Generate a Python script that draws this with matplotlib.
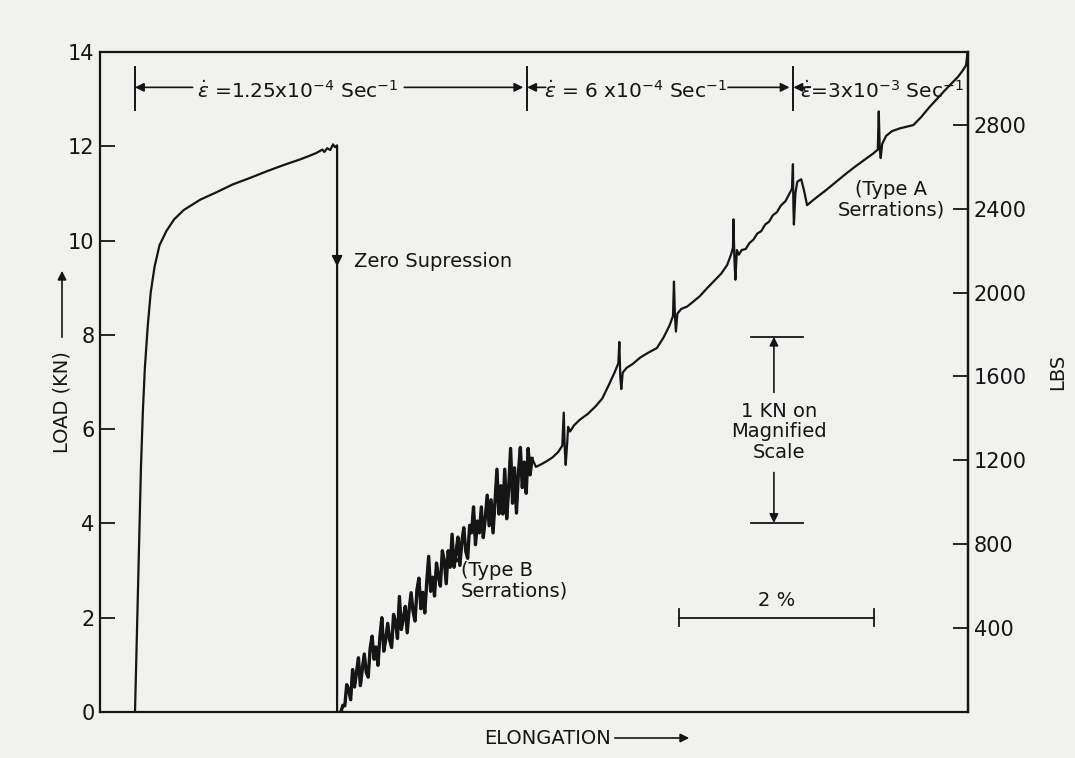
import matplotlib
matplotlib.use('Agg')
import matplotlib.pyplot as plt
from matplotlib.patches import FancyArrowPatch

plt.rcParams['font.family'] = ['DejaVu Sans']
plt.rcParams['mathtext.fontset'] = 'dejavusans'

INK = '#151515'
BG = '#f1f1ef'

# ---------------- data: elongation (%) vs load (kN) ----------------
# first test at 1.25e-4 /s (full scale)
yield_x = [0.359, 0.38, 0.40, 0.42, 0.44, 0.46, 0.49, 0.52, 0.56, 0.61, 0.68, 0.76,
           0.86, 1.03, 1.20, 1.36, 1.54, 1.71, 1.88, 2.05, 2.15, 2.22, 2.28, 2.30,
           2.33, 2.36, 2.39, 2.41, 2.431]
yield_y = [0.0, 1.8, 3.6, 5.2, 6.4, 7.3, 8.2, 8.9, 9.45, 9.9, 10.2, 10.45,
           10.65, 10.87, 11.03, 11.19, 11.33, 11.47, 11.6, 11.72, 11.80, 11.86, 11.93, 11.88,
           11.96, 11.92, 12.04, 11.98, 12.02]

# after zero suppression (magnified scale): type B serrations
typeb_x = [2.47, 2.49, 2.51, 2.53, 2.55, 2.57, 2.59, 2.61, 2.63, 2.65, 2.67, 2.69,
           2.71, 2.73, 2.75, 2.77, 2.79, 2.81, 2.83, 2.85, 2.87, 2.89, 2.91, 2.93,
           2.95, 2.97, 2.99, 3.01, 3.03, 3.05, 3.07, 3.09, 3.11, 3.13, 3.15, 3.17,
           3.19, 3.21, 3.23, 3.25, 3.27, 3.29, 3.31, 3.33, 3.35, 3.37, 3.39, 3.41,
           3.43, 3.45, 3.47, 3.49, 3.51, 3.53, 3.55, 3.57, 3.59, 3.61, 3.63, 3.65,
           3.67, 3.69, 3.71, 3.73, 3.75, 3.77, 3.79, 3.81, 3.83, 3.85, 3.87, 3.89,
           3.91, 3.93, 3.95, 3.97, 3.99, 4.01, 4.03, 4.05, 4.07, 4.09, 4.11, 4.13,
           4.15, 4.17, 4.19, 4.21, 4.23, 4.25, 4.27, 4.29, 4.31, 4.33, 4.35, 4.37,
           4.39, 4.41, 4.43]
typeb_y = [0.00, 0.14, 0.13, 0.58, 0.47, 0.26, 0.90, 0.53, 0.84, 1.15, 0.56, 0.92,
           1.23, 0.84, 0.74, 1.35, 1.61, 1.12, 1.38, 0.99, 1.60, 2.00, 1.29, 1.54,
           1.88, 1.53, 1.37, 2.07, 1.91, 1.56, 2.45, 1.75, 1.99, 2.24, 1.68, 2.18,
           2.53, 2.13, 1.93, 2.59, 2.84, 2.19, 2.54, 2.10, 2.75, 3.30, 2.56, 2.86,
           2.46, 3.16, 2.87, 2.67, 3.42, 3.22, 2.72, 3.42, 3.07, 3.77, 3.07, 3.37,
           3.71, 3.11, 3.61, 3.91, 3.41, 3.26, 3.96, 3.80, 4.35, 3.55, 4.05, 3.80,
           4.35, 3.70, 4.10, 4.60, 3.95, 4.50, 3.80, 4.45, 5.15, 4.20, 4.80, 4.20,
           5.15, 4.10, 4.74, 5.59, 4.43, 5.18, 4.22, 5.07, 5.61, 4.76, 5.30, 4.64,
           5.59, 5.03, 5.38]

# type A serrations (higher strain rates)
typea_x = [4.47, 4.52, 4.58, 4.64, 4.70, 4.74, 4.755, 4.765, 4.775, 4.79, 4.80, 4.82,
           4.86, 4.92, 5.00, 5.08, 5.15, 5.22, 5.28, 5.315, 5.325, 5.335, 5.345, 5.36,
           5.40, 5.46, 5.54, 5.62, 5.71, 5.78, 5.84, 5.875, 5.885, 5.895, 5.905, 5.92,
           5.96, 6.02, 6.08, 6.15, 6.22, 6.30, 6.37, 6.43, 6.47, 6.49, 6.495, 6.505,
           6.515, 6.53, 6.55, 6.58, 6.62, 6.66, 6.70, 6.74, 6.78, 6.82, 6.86, 6.90,
           6.94, 6.98, 7.03, 7.07, 7.095, 7.105, 7.11, 7.115, 7.13, 7.15, 7.19, 7.22,
           7.25, 7.29, 7.35, 7.45, 7.55, 7.65, 7.75, 7.85, 7.93, 7.975, 7.985, 7.995,
           8.005, 8.02, 8.06, 8.12, 8.20, 8.28, 8.34, 8.42, 8.50, 8.58, 8.66, 8.74,
           8.80, 8.85, 8.88, 8.895]
typea_y = [5.20, 5.25, 5.32, 5.40, 5.52, 5.65, 6.35, 5.60, 5.24, 5.70, 6.05, 5.95,
           6.08, 6.20, 6.32, 6.48, 6.65, 6.95, 7.22, 7.40, 7.85, 7.10, 6.85, 7.20,
           7.30, 7.38, 7.52, 7.62, 7.72, 7.95, 8.20, 8.40, 9.13, 8.40, 8.07, 8.45,
           8.55, 8.60, 8.70, 8.82, 8.98, 9.15, 9.30, 9.48, 9.70, 9.85, 10.45, 9.60,
           9.17, 9.80, 9.70, 9.80, 9.82, 9.95, 10.02, 10.15, 10.20, 10.34, 10.40, 10.54,
           10.60, 10.74, 10.84, 11.00, 11.10, 11.62, 10.70, 10.34, 11.00, 11.25, 11.30, 11.05,
           10.75, 10.82, 10.92, 11.08, 11.25, 11.42, 11.58, 11.73, 11.85, 11.93, 12.74, 11.95,
           11.75, 12.05, 12.22, 12.32, 12.38, 12.42, 12.45, 12.62, 12.82, 13.00, 13.18, 13.35,
           13.48, 13.62, 13.72, 14.00]

load_ticks = [0, 2, 4, 6, 8, 10, 12, 14]
lbs_ticks = [400, 800, 1200, 1600, 2000, 2400, 2800]
KN_TO_LBS = 224.809

rate_change_x = [0.359, 4.38, 7.11]
rate_labels = [r'$\dot{\epsilon}$ =1.25x10$^{-4}$ Sec$^{-1}$',
               r'$\dot{\epsilon}$ = 6 x10$^{-4}$ Sec$^{-1}$',
               r'$\dot{\epsilon}$=3x10$^{-3}$ Sec$^{-1}$']
rate_label_x = [2.03, 5.49, 8.02]

# ---------------- figure ----------------
W, H = 1075, 758
fig = plt.figure(figsize=(W / 100, H / 100), dpi=100, facecolor=BG)
ax = fig.add_axes([100 / W, 1 - 712 / H, 868 / W, 660 / H], facecolor=BG)

x = yield_x + [yield_x[-1]] + typeb_x + typea_x
y = yield_y + [0.0] + typeb_y + typea_y
ax.plot(x, y, color=INK, lw=1.6, solid_joinstyle='round')
ax.plot(typeb_x, typeb_y, color=INK, lw=2.4, solid_joinstyle='round')

ax.set_xlim(0, 8.9)
ax.set_ylim(0, 14)
ax.set_xticks([])
ax.set_yticks(load_ticks)
ax.tick_params(axis='y', direction='in', length=11, width=1.3, pad=4,
               labelsize=15, colors=INK)
for s in ax.spines.values():
    s.set_linewidth(1.6)
    s.set_color(INK)

sec = ax.secondary_yaxis('right', functions=(lambda k: k * KN_TO_LBS,
                                             lambda l: l / KN_TO_LBS))
sec.set_yticks(lbs_ticks)
sec.tick_params(direction='in', length=11, width=1.3, pad=4, labelsize=15, colors=INK)
sec.spines['right'].set_linewidth(1.6)

arrow_kw = dict(arrowstyle='-|>', color=INK, lw=1.2, shrinkA=0, shrinkB=0,
                mutation_scale=13)

# strain-rate brackets
yb = 13.25
for xc in rate_change_x:
    ax.plot([xc, xc], [12.78, 13.68], color=INK, lw=1.4)
ax.annotate('', xy=(rate_change_x[0], yb), xytext=(0.95, yb), arrowprops=arrow_kw)
ax.annotate('', xy=(rate_change_x[1] - 0.04, yb), xytext=(3.12, yb), arrowprops=arrow_kw)
ax.annotate('', xy=(rate_change_x[1], yb), xytext=(4.57, yb), arrowprops=arrow_kw)
ax.annotate('', xy=(rate_change_x[2] - 0.04, yb), xytext=(6.44, yb), arrowprops=arrow_kw)
ax.annotate('', xy=(rate_change_x[2], yb), xytext=(7.28, yb), arrowprops=arrow_kw)
for xl, lab in zip(rate_label_x, rate_labels):
    ax.text(xl, 13.03, lab, ha='center', va='baseline', fontsize=14.5, color=INK)

# zero suppression arrow
ax.annotate('', xy=(yield_x[-1], 9.45), xytext=(yield_x[-1], 9.95),
            arrowprops=dict(arrowstyle='-|>', color=INK, lw=1.2, shrinkA=0,
                            shrinkB=0, mutation_scale=16))
ax.text(2.60, 9.55, 'Zero Supression', ha='left', va='center', fontsize=14, color=INK)

# serration labels
ax.text(3.70, 2.78, '(Type B\nSerrations)', ha='left', va='center', fontsize=14,
        color=INK, linespacing=1.1)
ax.annotate('', xy=(3.62, 3.3), xytext=(3.70, 3.12),
            arrowprops=dict(arrowstyle='-|>', color=INK, lw=1.0, shrinkA=0,
                            shrinkB=0, mutation_scale=8))
ax.text(8.11, 10.87, '(Type A\nSerrations)', ha='center', va='center', fontsize=14,
        color=INK, linespacing=1.1)

# magnified-scale bar
ax.plot([6.67, 7.21], [7.96, 7.96], color=INK, lw=1.3)
ax.plot([6.67, 7.21], [4.01, 4.01], color=INK, lw=1.3)
ax.annotate('', xy=(6.91, 7.96), xytext=(6.91, 6.78), arrowprops=arrow_kw)
ax.annotate('', xy=(6.91, 4.01), xytext=(6.91, 5.08), arrowprops=arrow_kw)
ax.text(6.96, 5.95, '1 KN on\nMagnified\nScale', ha='center', va='center',
        fontsize=14, color=INK, linespacing=1.1)

# 2 % bar
ax.plot([5.94, 7.94], [2.0, 2.0], color=INK, lw=1.3)
ax.plot([5.94, 5.94], [1.82, 2.18], color=INK, lw=1.3)
ax.plot([7.94, 7.94], [1.82, 2.18], color=INK, lw=1.3)
ax.text(6.94, 2.17, '2 %', ha='center', va='bottom', fontsize=14, color=INK)

# axis titles
fig.text(547 / W, 1 - 738 / H, 'ELONGATION', ha='center', va='center',
         fontsize=14, color=INK)
fig.add_artist(FancyArrowPatch(
    (612 / W, 1 - 738 / H), (692 / W, 1 - 738 / H), transform=fig.transFigure,
    arrowstyle='-|>', mutation_scale=13, color=INK, lw=1.2))
fig.text(62 / W, 1 - 402 / H, 'LOAD (KN)', ha='center', va='center',
         rotation=90, fontsize=14, color=INK)
fig.add_artist(FancyArrowPatch(
    (62 / W, 1 - 340 / H), (62 / W, 1 - 268 / H), transform=fig.transFigure,
    arrowstyle='-|>', mutation_scale=13, color=INK, lw=1.2))
fig.text(1058 / W, 1 - 372 / H, 'LBS', ha='center', va='center',
         rotation=90, fontsize=14, color=INK)

fig.savefig('out.png', dpi=100, facecolor=BG)
